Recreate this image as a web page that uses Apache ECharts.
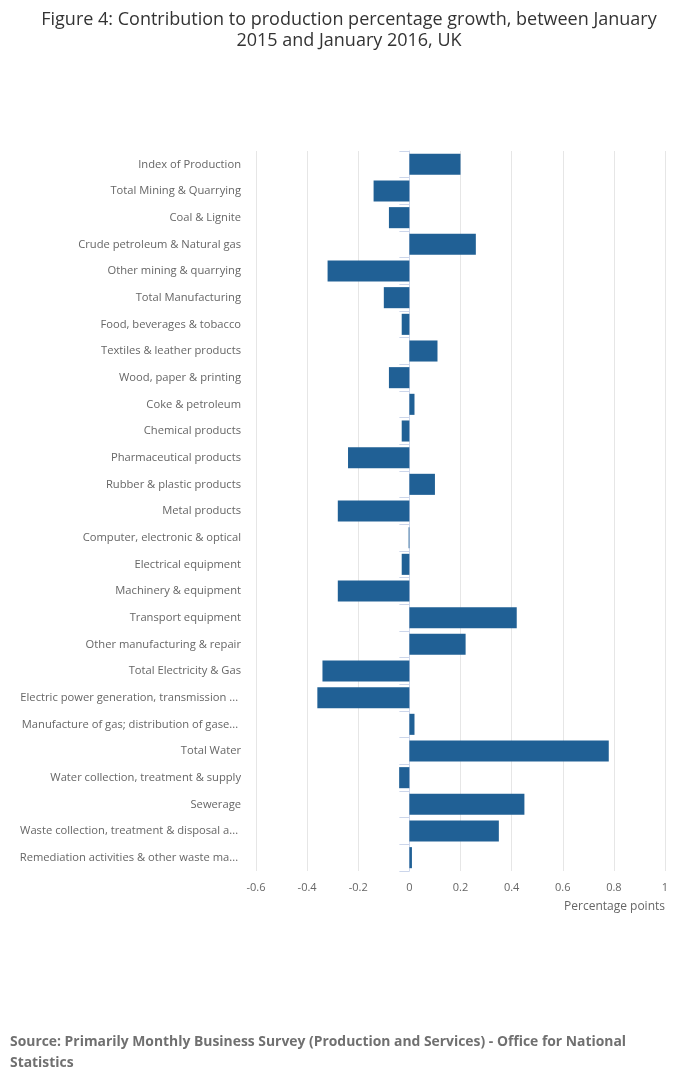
<!DOCTYPE html>
<html>
<head>
<meta charset="utf-8">
<script src="https://cdn.jsdelivr.net/npm/echarts@6/dist/echarts.min.js"></script>
<style>
  html, body { margin: 0; padding: 0; background: #fff; }
  #chart { width: 700px; height: 1092px; }
</style>
</head>
<body>
<div id="chart"></div>
<script>
// categories as shown on the chart (long names are cut off in the original)
let categories = [
    'Index of Production',
    'Total Mining & Quarrying',
    'Coal & Lignite',
    'Crude petroleum & Natural gas',
    'Other mining & quarrying',
    'Total Manufacturing',
    'Food, beverages & tobacco',
    'Textiles & leather products',
    'Wood, paper & printing',
    'Coke & petroleum',
    'Chemical products',
    'Pharmaceutical products',
    'Rubber & plastic products',
    'Metal products',
    'Computer, electronic & optical',
    'Electrical equipment',
    'Machinery & equipment',
    'Transport equipment',
    'Other manufacturing & repair',
    'Total Electricity & Gas',
    'Electric power generation, transmission ... ',
    'Manufacture of gas; distribution of gase... ',
    'Total Water',
    'Water collection, treatment & supply',
    'Sewerage',
    'Waste collection, treatment & disposal a... ',
    'Remediation activities & other waste ma... '
];

// contribution, percentage points
let contributions = [
    0.20, -0.14, -0.08, 0.26, -0.32, -0.10, -0.03, 0.11, -0.08, 0.02,
    -0.03, -0.24, 0.10, -0.28, -0.003, -0.03, -0.28, 0.42, 0.22, -0.34,
    -0.36, 0.02, 0.78, -0.04, 0.45, 0.35, 0.01
];

let xMin = -0.6;
let xMax = 1;
let xStep = 0.2;

let titleText = 'Figure 4: Contribution to production percentage growth, between January\n2015 and January 2016, UK';
let sourceText = 'Source: Primarily Monthly Business Survey (Production and Services) - Office for National\nStatistics';
let xAxisTitle = 'Percentage points';

let font = '"Open Sans", sans-serif';

let option = {
    animation: false,
    title: [{
        text: titleText,
        left: 344,
        top: 4,
        textAlign: 'center',
        textStyle: {
            fontFamily: font,
            fontSize: 18,
            fontWeight: 'normal',
            color: '#333333',
            lineHeight: 21
        }
    }, {
        text: xAxisTitle,
        right: 30,
        top: 896,
        textStyle: {
            fontFamily: font,
            fontSize: 12,
            fontWeight: 'normal',
            color: '#666666'
        }
    }, {
        text: sourceText,
        left: 5,
        top: 1027,
        textStyle: {
            fontFamily: font,
            fontSize: 13.9,
            fontWeight: 'bold',
            color: '#707070',
            lineHeight: 21
        }
    }],
    grid: {
        left: 256,
        right: 35,
        top: 151,
        bottom: 221,
        containLabel: false
    },
    xAxis: {
        type: 'value',
        min: xMin,
        max: xMax,
        interval: xStep,
        axisLine: { show: false },
        axisTick: { show: false },
        splitLine: { lineStyle: { color: '#e6e6e6', width: 1 } },
        axisLabel: {
            fontFamily: font,
            fontSize: 11,
            color: '#666666',
            margin: 11
        }
    },
    yAxis: {
        type: 'category',
        data: categories,
        inverse: true,
        axisLine: { show: true, lineStyle: { color: '#ccd6eb', width: 1 } },
        axisTick: { show: true, length: 10, lineStyle: { color: '#ccd6eb' } },
        axisLabel: {
            fontFamily: font,
            fontSize: 11.2,
            color: '#666666',
            margin: 15,
            padding: [2, 0, 0, 0]
        }
    },
    series: [{
        name: 'Contribution',
        type: 'bar',
        data: contributions,
        barCategoryGap: '21%',
        itemStyle: { color: '#206095' }
    }]
};

let chart = echarts.init(document.getElementById('chart'));
chart.setOption(option);
</script>
</body>
</html>
